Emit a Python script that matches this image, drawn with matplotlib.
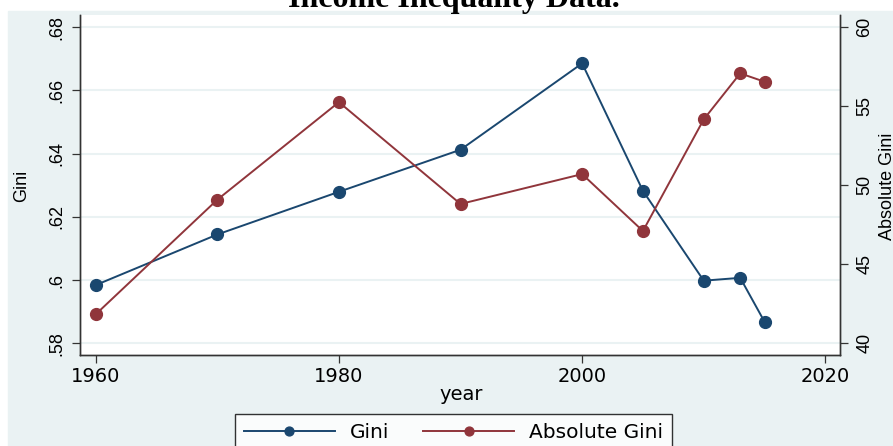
import matplotlib
matplotlib.use("Agg")
import matplotlib.pyplot as plt
from matplotlib.patches import Rectangle

# data
years = [1960, 1970, 1980, 1990, 2000, 2005, 2010, 2013, 2015]
gini = [0.5984, 0.6144, 0.6279, 0.6412, 0.6685, 0.6282, 0.5998, 0.6007, 0.5868]
abs_gini = [41.83, 49.08, 55.25, 48.81, 50.70, 47.10, 54.16, 57.07, 56.54]

x_ticks = [1960, 1980, 2000, 2020]
gini_ticks = [0.58, 0.60, 0.62, 0.64, 0.66, 0.68]
gini_labels = ['.58', '.6', '.62', '.64', '.66', '.68']
abs_ticks = [40, 45, 50, 55, 60]
abs_labels = ['40', '45', '50', '55', '60']

blue = '#1a476f'
red = '#90353b'
bg = '#eaf2f3'
dark = '#333333'
vfont = 'Liberation Sans'

fig = plt.figure(figsize=(8.93, 4.46), dpi=100)
fig.patch.set_facecolor('white')
# light outer region (graph region)
fig.patches.append(Rectangle((7.5/893, 0), 1 - 7.5/893, 1 - 11/446,
                             transform=fig.transFigure, color=bg, zorder=-1))

ax = fig.add_axes([80/893, 1 - 355/446, 759.7/893, 340/446])
ax.set_facecolor('white')
ax2 = ax.twinx()

l1, = ax.plot(years, gini, color=blue, lw=1.4, marker='o', ms=8.5, label='Gini')
l2, = ax2.plot(years, abs_gini, color=red, lw=1.4, marker='o', ms=8.5, label='Absolute Gini')

ax.set_xlim(1958.71, 2021.18)
ax.set_ylim(0.5763, 0.6838)
ax2.set_ylim(39.26, 60.76)

ax.set_xticks(x_ticks)
ax.set_xticklabels([str(t) for t in x_ticks], fontsize=14)
ax.set_yticks(gini_ticks, gini_labels, rotation=90, va='center', fontsize=13, family=vfont)
ax2.set_yticks(abs_ticks, abs_labels, rotation=90, va='center', fontsize=13, family=vfont)

# gridlines on the left scale
ax.grid(axis='y', color=bg, lw=1.5)
ax.set_axisbelow(True)

for a in (ax, ax2):
    a.spines['top'].set_visible(False)
    for s in ('left', 'right', 'bottom'):
        a.spines[s].set_color(dark)
        a.spines[s].set_linewidth(1.0)
ax.tick_params(axis='x', length=6, width=0.9, color=dark, pad=3)
ax.tick_params(axis='y', length=6, width=0.9, color=dark, pad=4.5)
ax2.tick_params(axis='y', length=6, width=0.9, color=dark, pad=6)

# axis titles
fig.text(22/893, 1 - 186/446, 'Gini', rotation=90, ha='center', va='center',
         fontsize=13, family=vfont)
fig.text(887/893, 1 - 186/446, 'Absolute Gini', rotation=90, ha='center', va='center',
         fontsize=13, family=vfont)
fig.text(461/893, 1 - 395/446, 'year', ha='center', va='center', fontsize=14)

# title, cut off at the top as in the original
fig.text(454/893, 1 - 7/446, 'Income Inequality Data.', ha='center', va='baseline',
         fontsize=23, fontweight='bold', family='Liberation Serif')

leg = fig.legend(handles=[l1, l2], loc='upper left', bbox_to_anchor=(235/893, 1 - 414/446),
                 ncol=2, fontsize=14.5, frameon=True, fancybox=False, borderaxespad=0,
                 handlelength=4.5, handletextpad=0.75, columnspacing=1.7, borderpad=0.45,
                 markerscale=0.75)
leg.get_frame().set_edgecolor('black')
leg.get_frame().set_linewidth(1.0)
leg.get_frame().set_facecolor('white')

fig.savefig('out.png', dpi=100)
